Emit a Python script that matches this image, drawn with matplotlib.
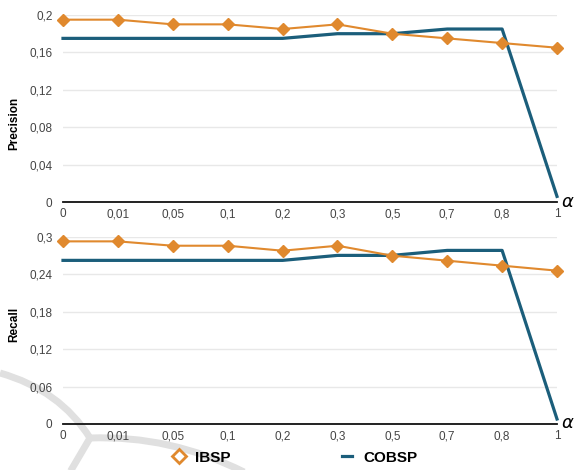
import matplotlib
matplotlib.use("Agg")
import matplotlib.pyplot as plt
from matplotlib.lines import Line2D
from matplotlib.path import Path
from matplotlib.patches import PathPatch

plt.rcParams["font.family"] = ["Liberation Sans", "DejaVu Sans"]

# alpha values on the x axis
alpha_labels = ["0", "0,01", "0,05", "0,1", "0,2", "0,3", "0,5", "0,7", "0,8", "1"]

# precision per alpha
ibsp_precision = [0.195, 0.195, 0.19, 0.19, 0.185, 0.19, 0.18, 0.175, 0.17, 0.165]
cobsp_precision = [0.175, 0.175, 0.175, 0.175, 0.175, 0.18, 0.18, 0.185, 0.185, 0.006]

# recall per alpha
ibsp_recall = [0.293, 0.293, 0.286, 0.286, 0.278, 0.286, 0.27, 0.262, 0.254, 0.246]
cobsp_recall = [0.2625, 0.2625, 0.2625, 0.2625, 0.2625, 0.2705, 0.2705, 0.2785, 0.2785, 0.008]

prec_ticks = [0, 0.04, 0.08, 0.12, 0.16, 0.2]
prec_labels = ["0", "0,04", "0,08", "0,12", "0,16", "0,2"]
rec_ticks = [0, 0.06, 0.12, 0.18, 0.24, 0.3]
rec_labels = ["0", "0,06", "0,12", "0,18", "0,24", "0,3"]

ORANGE = "#e0892e"
BLUE = "#1b5e7b"
W, H = 577, 470

fig = plt.figure(figsize=(W / 100, H / 100), dpi=100)
fig.patch.set_facecolor("white")


def fx(px):
    return px / W


def fy(py):
    return 1 - py / H


# faint grey watermark in the background (from the scanned page)
wm_paths = [
    Path([(fx(0), fy(373)), (fx(60), fy(390)), (fx(90), fy(438))],
         [Path.MOVETO, Path.CURVE3, Path.CURVE3]),
    Path([(fx(90), fy(438)), (fx(70), fy(472))], [Path.MOVETO, Path.LINETO]),
    Path([(fx(90), fy(438)), (fx(170), fy(435)), (fx(244), fy(472))],
         [Path.MOVETO, Path.CURVE3, Path.CURVE3]),
]
for p in wm_paths:
    fig.patches.append(PathPatch(p, facecolor="none", edgecolor="#e0e0e0", lw=5,
                                 transform=fig.transFigure, zorder=-1))


def setup(ax, ibsp, cobsp, ticks, labels, ylabel, label_y):
    x = list(range(len(alpha_labels)))
    ax.set_facecolor("none")
    ax.plot(x, cobsp, color=BLUE, lw=2.3, zorder=3, clip_on=False)
    ax.plot(x, ibsp, color=ORANGE, lw=1.5, marker="D", markersize=6,
            zorder=4, clip_on=False)
    ax.set_xlim(0, len(alpha_labels) - 1)
    ax.set_ylim(ticks[0], ticks[-1])
    ax.set_xticks(x)
    ax.set_xticklabels(alpha_labels)
    ax.set_yticks(ticks)
    ax.set_yticklabels(labels)
    ax.tick_params(axis="both", length=0, labelsize=8.5, labelcolor="#444444")
    ax.tick_params(axis="y", pad=7.5)
    ax.tick_params(axis="x", pad=4.5)
    ax.grid(axis="y", color="#e8e8e8", lw=1)
    ax.set_axisbelow(True)
    for s in ["left", "right", "top"]:
        ax.spines[s].set_visible(False)
    ax.spines["bottom"].set_color("#111111")
    ax.spines["bottom"].set_linewidth(1.3)
    ax.set_ylabel(ylabel, fontsize=8.5, fontweight="bold")
    ax.yaxis.set_label_coords(-0.087, label_y)
    ax.text(1.022, 0.0, r"$\alpha$", transform=ax.transAxes, fontsize=13,
            ha="center", va="center")


ax1 = fig.add_axes([fx(63), fy(202), (557 - 63) / W, 187 / H])
setup(ax1, ibsp_precision, cobsp_precision, prec_ticks, prec_labels, "Precision", 0.42)

ax2 = fig.add_axes([fx(63), fy(424), (557 - 63) / W, 187 / H])
setup(ax2, ibsp_recall, cobsp_recall, rec_ticks, rec_labels, "Recall", 0.53)

handles = [
    Line2D([], [], color=ORANGE, marker="D", markersize=7, markerfacecolor="white",
           markeredgewidth=2, linestyle="none", label="IBSP"),
    Line2D([], [], color=BLUE, lw=2.3, label="COBSP"),
]
fig.legend(handles=handles, loc="center", bbox_to_anchor=(0.513, 0.026), ncol=2,
           frameon=False, prop={"weight": "bold", "size": 11}, handlelength=0.65,
           handletextpad=0.75, columnspacing=7.3, borderpad=0)

fig.savefig("out.png", dpi=100)
